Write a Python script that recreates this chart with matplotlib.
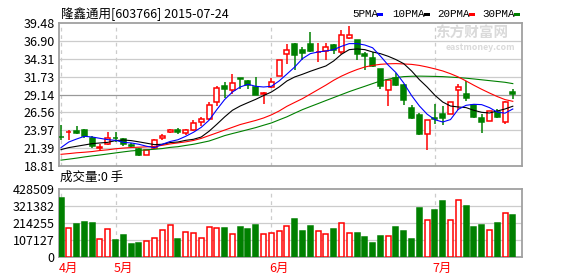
import matplotlib

matplotlib.use("Agg")
import matplotlib.pyplot as plt
from matplotlib.patches import Rectangle
from matplotlib.transforms import blended_transform_factory

plt.rcParams["font.family"] = ["Noto Sans CJK SC", "DejaVu Sans"]
plt.rcParams["font.size"] = 9

UP = "#ff0000"
DOWN = "#008000"
GRID = "#cccccc"
FRAME = "#a0a0a0"

# candles: open, high, low, close
opens = [23.05, 23.73, 23.83, 24.07, 22.91, 21.45, 22.04, 22.90, 22.76, 21.80,
         21.32, 20.46, 21.47, 22.86, 23.68, 24.07, 23.58, 24.07, 25.22, 25.60,
         28.02, 30.33, 29.85, 31.50, 31.15, 30.19, 29.20, 30.23, 31.88, 34.96,
         36.40, 35.63, 36.40, 35.25, 35.43, 36.30, 35.29, 37.37, 36.98, 35.05,
         34.48, 32.89, 29.85, 31.59, 30.48, 27.25, 26.24, 23.39, 25.81, 26.28,
         26.38, 29.75, 29.17, 27.58, 25.81, 25.32, 26.61, 25.17, 29.50]
highs = [24.69, 23.97, 24.59, 24.10, 23.10, 21.95, 23.73, 23.73, 22.91, 22.14,
         21.40, 21.18, 22.71, 23.49, 24.21, 24.36, 24.21, 25.52, 25.90, 28.02,
         30.33, 31.01, 32.07, 31.59, 31.30, 31.68, 29.50, 31.53, 34.19, 36.50,
         36.59, 36.01, 38.14, 36.59, 36.59, 36.40, 38.52, 39.00, 37.08, 35.29,
         35.29, 32.89, 31.44, 32.25, 30.60, 27.58, 26.47, 25.42, 27.83, 27.44,
         28.12, 30.72, 31.10, 27.73, 26.38, 26.76, 27.10, 28.21, 29.94]
lows = [22.63, 22.53, 23.40, 22.80, 21.47, 21.08, 21.80, 22.28, 21.66, 21.47,
        20.30, 20.46, 21.27, 22.52, 23.53, 23.49, 23.25, 23.87, 24.55, 25.42,
        27.54, 28.64, 29.17, 29.99, 29.90, 29.07, 27.83, 30.08, 31.77, 33.61,
        32.75, 34.19, 35.29, 33.84, 34.19, 34.96, 35.05, 37.22, 34.19, 32.64,
        33.12, 29.90, 27.48, 30.43, 27.58, 25.66, 23.25, 21.18, 24.94, 24.79,
        26.28, 26.86, 28.21, 25.81, 23.58, 25.32, 25.81, 24.94, 28.55]
closes = [22.96, 23.78, 23.64, 23.10, 21.76, 21.55, 22.91, 22.82, 21.95, 21.72,
          20.36, 21.18, 22.62, 23.20, 23.97, 23.68, 23.97, 25.08, 25.56, 27.68,
          30.08, 29.94, 30.87, 31.40, 30.58, 29.13, 29.30, 31.01, 34.09, 35.63,
          34.86, 35.14, 35.43, 35.33, 36.07, 35.63, 37.80, 37.70, 35.05, 34.77,
          33.22, 30.37, 31.20, 30.52, 28.31, 25.81, 23.39, 25.42, 25.60, 25.81,
          28.02, 30.23, 28.70, 25.89, 25.13, 26.76, 25.89, 28.06, 29.17]

ma5 = [21.47, 22.28, 22.71, 23.10, 23.00, 22.81, 22.62, 22.52, 22.23, 22.14,
       21.95, 21.66, 21.47, 21.95, 22.35, 22.60, 23.10, 23.68, 24.40, 25.42,
       26.96, 28.41, 29.50, 30.23, 30.62, 30.33, 30.23, 30.33, 31.10, 32.10,
       33.12, 34.33, 35.05, 35.29, 35.43, 35.63, 36.11, 36.50, 36.50, 36.30,
       35.90, 34.70, 33.40, 32.30, 30.80, 29.00, 27.50, 26.30, 25.50, 25.17,
       25.52, 27.00, 27.58, 27.73, 27.68, 27.25, 26.60, 26.45, 27.05]
ma10 = [21.18, 21.47, 21.66, 21.85, 22.04, 22.14, 22.23, 22.48, 22.57, 22.48,
        22.30, 22.10, 21.90, 21.95, 22.20, 22.28, 22.52, 22.67, 23.00, 23.83,
        24.84, 25.90, 26.86, 27.48, 27.97, 28.45, 28.99, 29.50, 30.23, 31.10,
        31.68, 32.07, 32.50, 32.89, 33.27, 33.99, 34.96, 35.63, 35.73, 35.63,
        35.29, 35.05, 34.67, 34.19, 33.60, 32.55, 31.30, 30.23, 29.03, 28.06,
        27.48, 27.34, 27.25, 26.86, 26.57, 26.47, 26.76, 27.05, 27.45]
ma20 = [20.50, 20.60, 20.72, 20.80, 20.90, 21.05, 21.15, 21.30, 21.40, 21.48,
        21.53, 21.58, 21.64, 21.80, 22.00, 22.15, 22.30, 22.50, 22.80, 23.20,
        23.60, 24.00, 24.40, 24.80, 25.10, 25.40, 25.75, 26.20, 26.76, 27.44,
        28.00, 28.55, 29.20, 29.85, 30.50, 31.20, 31.80, 32.31, 32.75, 33.12,
        33.35, 33.51, 33.58, 33.61, 33.56, 33.50, 33.35, 33.12, 32.85, 32.55,
        32.15, 31.68, 31.10, 30.48, 29.90, 29.36, 28.85, 28.41, 28.16]
ma30 = [19.66, 19.80, 19.95, 20.12, 20.27, 20.40, 20.55, 20.70, 20.85, 20.99,
        21.07, 21.15, 21.23, 21.33, 21.50, 21.60, 21.78, 21.95, 22.18, 22.42,
        22.80, 23.20, 23.50, 23.78, 24.07, 24.36, 24.70, 25.03, 25.48, 25.92,
        26.45, 26.96, 27.40, 27.83, 28.27, 28.70, 29.13, 29.56, 29.95, 30.33,
        30.72, 31.10, 31.35, 31.59, 31.73, 31.78, 31.80, 31.78, 31.76, 31.73,
        31.66, 31.59, 31.50, 31.39, 31.27, 31.15, 31.03, 30.91, 30.72]

volumes = [373600, 181500, 209000, 221600, 215300, 111900, 175200, 107700, 139300, 82300,
           88700, 99200, 118200, 168900, 200500, 114000, 156200, 149900, 118200, 187900,
           181500, 183600, 143500, 190000, 177300, 202600, 143500, 149900, 162500, 194200,
           240600, 164600, 196300, 162500, 143500, 177300, 213200, 149900, 152000, 126700,
           88700, 133000, 130900, 190000, 164600, 114000, 310300, 232200, 297600, 354600,
           232200, 358900, 323000, 190000, 202600, 168900, 215300, 276500, 266000]

price_ticks = [18.81, 21.39, 23.97, 26.56, 29.14, 31.73, 34.31, 36.90, 39.48]
vol_ticks = [0, 107127, 214255, 321382, 428509]
month_pos = [0, 7, 27, 48]
month_labels = ["4月", "5月", "6月", "7月"]
ma_names = ["5PMA", "10PMA", "20PMA", "30PMA"]
ma_colors = ["#0000ff", "#000000", "#ff0000", "#008000"]

W, H = 578, 276
fig = plt.figure(figsize=(W / 100, H / 100), dpi=100)
fig.patch.set_facecolor("white")


def px_box(left, top, right, bottom):
    return [left / W, 1 - bottom / H, (right - left) / W, (bottom - top) / H]


ax = fig.add_axes(px_box(59, 23, 522, 166))
axv = fig.add_axes(px_box(59, 189, 522, 257))
xlim = (-0.26, 59.18)

for a in (ax, axv):
    a.set_xlim(*xlim)
    a.set_xticks([])
    for s in a.spines.values():
        s.set_color(FRAME)
        s.set_linewidth(1.3)
    a.tick_params(axis="y", length=0, pad=3, labelsize=9, colors="#000000")
    for m in month_pos:
        a.axvline(m, color=GRID, linestyle=(0, (3, 3)), linewidth=0.9, zorder=0)

# price panel
ax.set_ylim(price_ticks[0], price_ticks[-1])
ax.set_yticks(price_ticks)
ax.set_yticklabels([f"{v:.2f}" for v in price_ticks])
for k, v in enumerate(price_ticks[1:-1], start=1):
    ax.axhline(v, color="#999999" if k == 4 else GRID, linewidth=0.9, zorder=0)

body_w = 0.64
for i in range(len(opens)):
    o, h, l, c = opens[i], highs[i], lows[i], closes[i]
    up = c >= o
    col = UP if up else DOWN
    ax.vlines(i, l, h, color=col, linewidth=1.1, zorder=2)
    lo, hi = min(o, c), max(o, c)
    if hi - lo < 0.05:
        ax.hlines(lo, i - body_w / 2, i + body_w / 2, color=col, linewidth=1.3, zorder=3)
    else:
        ax.add_patch(Rectangle((i - body_w / 2, lo), body_w, hi - lo,
                               facecolor="white" if up else col, edgecolor=col,
                               linewidth=1.1, zorder=3))

xs = list(range(len(opens)))
for series, col in zip([ma30, ma20, ma10, ma5], ma_colors[::-1]):
    ax.plot(xs, series, color=col, linewidth=0.8, zorder=4)

# volume panel
axv.set_ylim(0, vol_ticks[-1])
axv.set_yticks(vol_ticks)
axv.set_yticklabels([str(v) for v in vol_ticks])
for v in vol_ticks[1:-1]:
    axv.axhline(v, color=GRID, linewidth=0.9, zorder=0)
for i, v in enumerate(volumes):
    up = closes[i] >= opens[i]
    col = UP if up else DOWN
    axv.bar(i, v, width=body_w, facecolor="white" if up else col, edgecolor=col,
            linewidth=1.1, zorder=3)

trans = blended_transform_factory(axv.transData, fig.transFigure)
for m, lab in zip(month_pos, month_labels):
    axv.text(m - 0.3, 1 - 268 / H, lab, transform=trans, color=UP, fontsize=9,
             ha="left", va="center")

# header texts
fig.text(61 / W, 1 - 14 / H, "隆鑫通用[603766] 2015-07-24", fontsize=9, va="center")
fig.text(60 / W, 1 - 177 / H, "成交量:0 手", fontsize=9, va="center")

legend_x = [352, 392, 437, 482]
box_x = [377, 424, 469, 514]
for name, col, tx, bx in zip(ma_names, ma_colors, legend_x, box_x):
    fig.text(tx / W, 1 - 14 / H, name, fontsize=7.8, va="center",
             family=["Liberation Mono"])
    fig.patches.append(Rectangle((bx / W, 1 - 16 / H), 6 / W, 3 / H,
                                 facecolor=col, edgecolor="none",
                                 transform=fig.transFigure, figure=fig))

# watermark
fig.text(472 / W, 1 - 33 / H, "东方财富网", fontsize=10.5, color="#dadada",
         weight="bold", ha="center", va="center", zorder=0)
fig.text(480 / W, 1 - 47 / H, "eastmoney.com", fontsize=6.3, color="#dadada",
         weight="bold", ha="center", va="center", zorder=0)

fig.savefig("out.png", dpi=100)
